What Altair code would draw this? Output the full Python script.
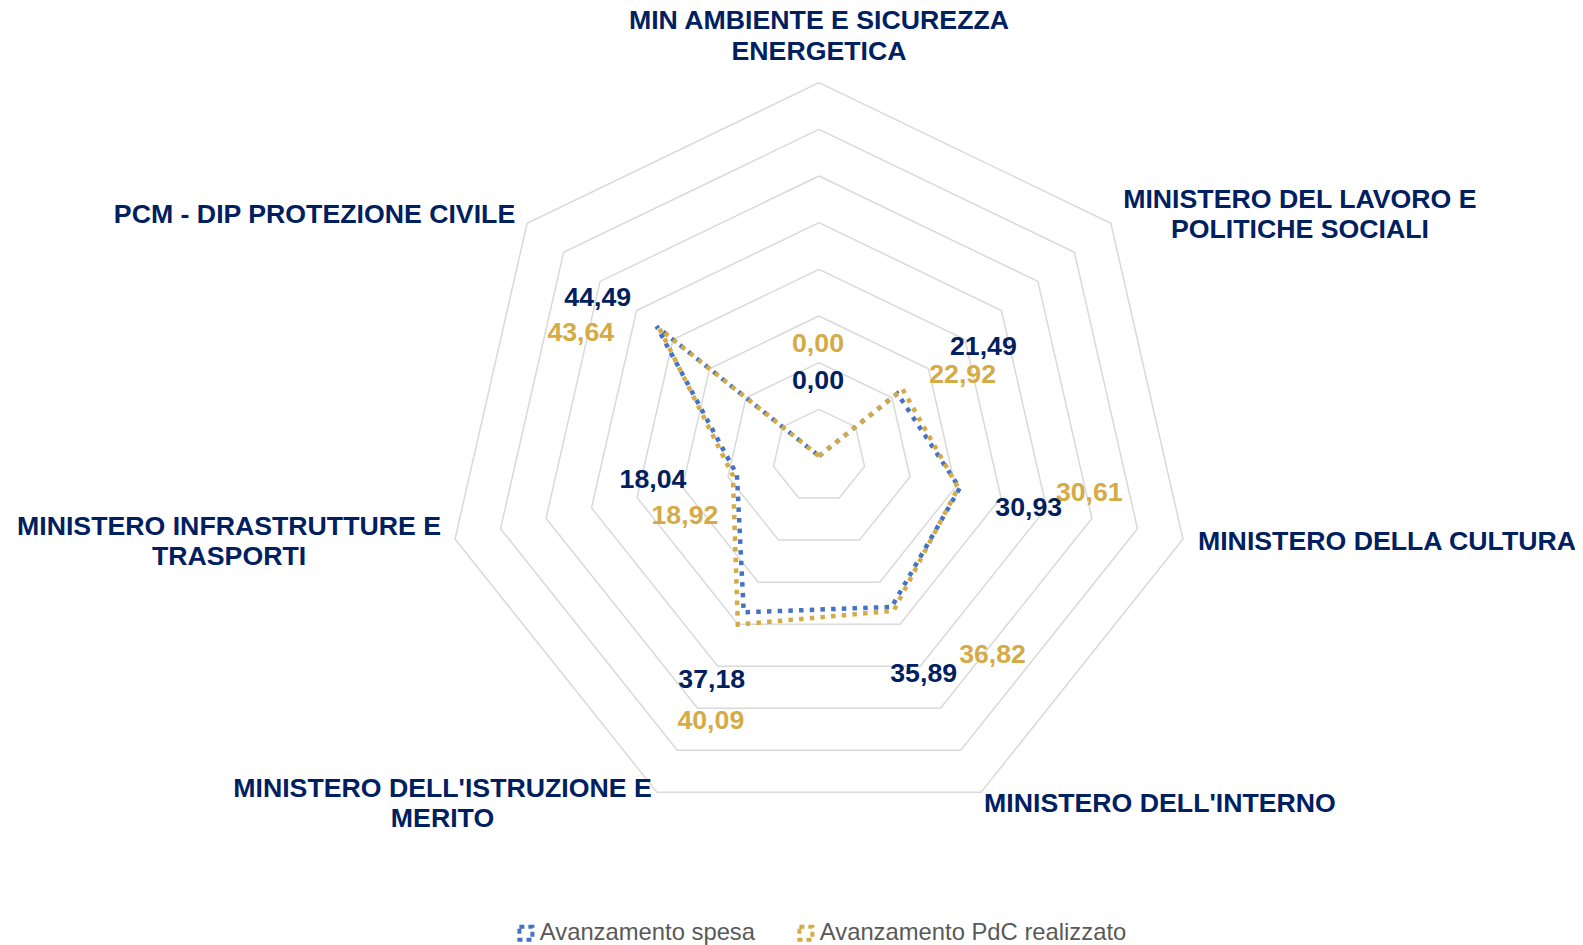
import math
import altair as alt
import pandas as pd

# ---------------- data ----------------
categories = [
    "MIN AMBIENTE E SICUREZZA\nENERGETICA",
    "MINISTERO DEL LAVORO E\nPOLITICHE SOCIALI",
    "MINISTERO DELLA CULTURA",
    "MINISTERO DELL'INTERNO",
    "MINISTERO DELL'ISTRUZIONE E\nMERITO",
    "MINISTERO INFRASTRUTTURE E\nTRASPORTI",
    "PCM - DIP PROTEZIONE CIVILE",
]
spesa = [0.00, 21.49, 30.93, 35.89, 37.18, 18.04, 44.49]
pdc = [0.00, 22.92, 30.61, 36.82, 40.09, 18.92, 43.64]
series_names = ["Avanzamento spesa", "Avanzamento PdC realizzato"]
ring_values = [10, 20, 30, 40, 50, 60, 70, 80]
axis_max = 80

# label placement offsets (pixels) - styling, not data
spesa_dx = [-1, 86, 69, 32, -32, -84, -59]
spesa_dy = [-75, -46.5, 20, 67, 68, 5, -28.5]
pdc_dx = [-1, 60, 131, 99, -27, -48, -79]
pdc_dy = [-112, -14, 5, 44, 96, 40, 4]
cat_dx = [0, 189, 204, 179, -214.5, -226, -212.6]
cat_dy = [-46, -8, 3, 12, 11.5, 3, -8]

# ---------------- styling ----------------
W, H = 1567, 937
PX = 4.6667          # pixels per unit
CX, CY = 811, 448    # centre in plot coordinates
BLUE = "#4472C4"
GOLD = "#D4AB47"
NAVY = "#002060"
GRID = "#D9D9D9"
FONT = "Liberation Sans"
FS = 26.7
LH = 30.5
N = len(categories)

xdom = [-CX / PX, (W - CX) / PX]
ydom = [-(H - CY) / PX, CY / PX]
xs = alt.Scale(domain=xdom, nice=False, zero=False)
ys = alt.Scale(domain=ydom, nice=False, zero=False)

# ---------------- tables ----------------
rows = []
for s, vals in zip(series_names, [spesa, pdc]):
    for k in range(N + 1):
        rows.append({"series": s, "k": k % N, "ord": k, "value": vals[k % N]})
lines_df = pd.DataFrame(rows)

grid_rows = []
for r in ring_values:
    for k in range(N + 1):
        grid_rows.append({"ring": r, "k": k % N, "ord": k, "value": r})
grid_df = pd.DataFrame(grid_rows)

lab_rows = []
for s, vals, dxs, dys in zip(series_names, [spesa, pdc], [spesa_dx, pdc_dx], [spesa_dy, pdc_dy]):
    for k in range(N):
        lab_rows.append({"series": s, "k": k, "value": vals[k],
                         "text": f"{vals[k]:.2f}".replace(".", ","),
                         "dx": dxs[k], "dy": dys[k]})
lab_df = pd.DataFrame(lab_rows)

cat_df = pd.DataFrame({
    "k": list(range(N)), "label": categories, "value": [axis_max] * N,
    "dx": cat_dx,
    # first line sits on the anchor: shift multi-line blocks up to centre them
    "dy": [d - (c.count("\n")) * LH / 2 for d, c in zip(cat_dy, categories)],
})

ang = f"datum.k * 2 * PI / {N}"
px_expr = f"datum.value * sin({ang})"
py_expr = f"datum.value * cos({ang})"

color_scale = alt.Scale(domain=series_names, range=[BLUE, GOLD])
legend = alt.Legend(
    title=None, orient="none", direction="horizontal", legendX=506, legendY=913,
    labelFont=FONT, labelFontSize=23.8, labelColor="#595959", labelOffset=2, labelLimit=0,
    symbolType="square", symbolSize=170, symbolStrokeWidth=4, symbolDash=[5, 4],
    symbolFillColor="white", columnPadding=36, padding=0,
)

grid = alt.Chart(grid_df).transform_calculate(
    x=px_expr, y=py_expr
).mark_line(color=GRID, strokeWidth=1.5).encode(
    x=alt.X("x:Q", scale=xs, axis=None),
    y=alt.Y("y:Q", scale=ys, axis=None),
    detail="ring:N",
    order="ord:Q",
)

def series_line(name):
    return alt.Chart(lines_df).transform_filter(
        alt.datum.series == name
    ).transform_calculate(
        x=px_expr, y=py_expr
    ).mark_line(strokeWidth=4.5, strokeDash=[4.5, 6.2], strokeCap="butt", strokeJoin="miter").encode(
        x=alt.X("x:Q", scale=xs, axis=None),
        y=alt.Y("y:Q", scale=ys, axis=None),
        color=alt.Color("series:N", scale=color_scale, legend=legend),
        order="ord:Q",
    )

def series_labels(name, col):
    return alt.Chart(lab_df).transform_filter(
        alt.datum.series == name
    ).transform_calculate(
        x=f"{px_expr} + datum.dx / {PX}", y=f"{py_expr} - datum.dy / {PX}"
    ).mark_text(font=FONT, fontSize=FS, fontWeight="bold", color=col,
                align="center", baseline="middle").encode(
        x=alt.X("x:Q", scale=xs, axis=None),
        y=alt.Y("y:Q", scale=ys, axis=None),
        text="text:N",
    )

cats = alt.Chart(cat_df).transform_calculate(
    x=f"{px_expr} + datum.dx / {PX}", y=f"{py_expr} - datum.dy / {PX}"
).mark_text(font=FONT, fontSize=FS, fontWeight="bold", color=NAVY,
            align="center", baseline="middle", lineBreak="\n", lineHeight=LH).encode(
    x=alt.X("x:Q", scale=xs, axis=None),
    y=alt.Y("y:Q", scale=ys, axis=None),
    text="label:N",
)

chart = alt.layer(
    grid,
    series_line(series_names[0]),
    series_line(series_names[1]),
    series_labels(series_names[0], NAVY),
    series_labels(series_names[1], GOLD),
    cats,
).properties(
    width=W, height=H, padding=0, autosize=alt.AutoSizeParams(type="none"),
    background="white",
).configure_view(stroke=None, strokeWidth=0)

chart.save("out.html", embed_options={"renderer": "svg", "actions": False})
